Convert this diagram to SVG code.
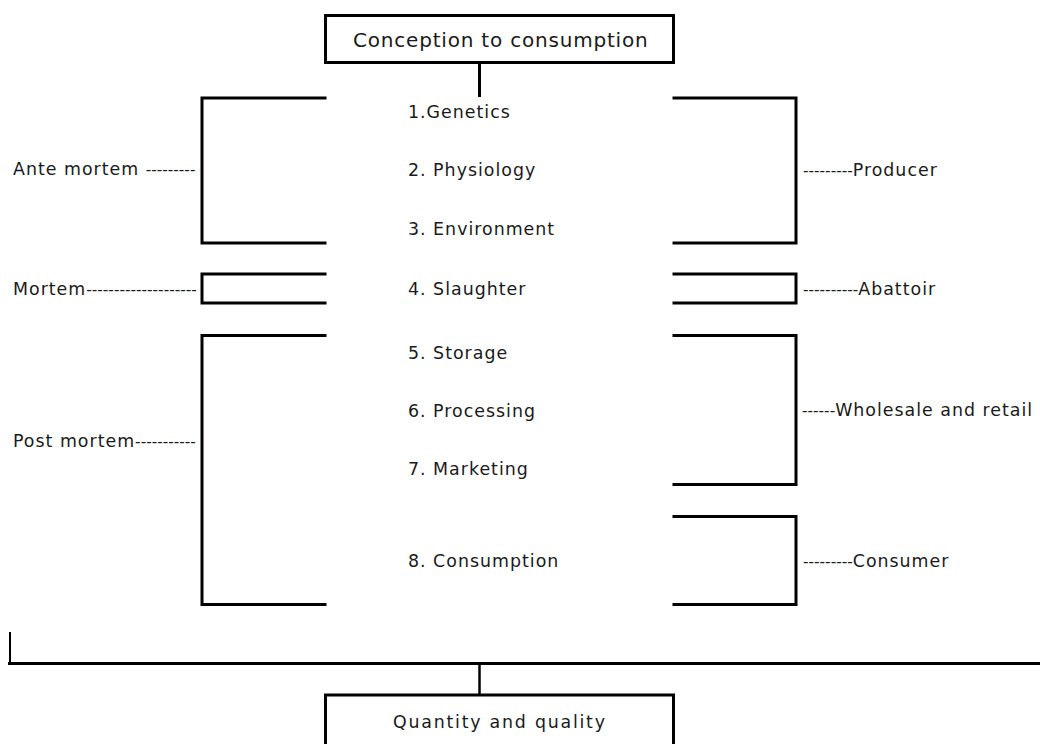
<svg xmlns="http://www.w3.org/2000/svg" width="1040" height="744" viewBox="0 0 1040 744">
<style>
.box{fill:#fff;stroke:#000;stroke-width:3}
.br{fill:none;stroke:#000;stroke-width:3;stroke-linecap:square}
.ln{fill:none;stroke:#000}
text{font-family:"DejaVu Sans",Verdana,sans-serif;font-size:17.4px;letter-spacing:1px;fill:#1a1a1a}
.title{font-size:20px;letter-spacing:0.8px}
.d{font-family:"Liberation Sans",Arial,sans-serif;font-size:16.6px;letter-spacing:0}
</style>
<rect width="1040" height="744" fill="#fff"/>
<g id="connectors">
<line class="ln" x1="479.5" y1="64" x2="479.5" y2="97" stroke-width="3"/>
<path class="ln" d="M10,632 V663.5" stroke-width="2"/>
<line class="ln" x1="8" y1="663.5" x2="1040" y2="663.5" stroke-width="3"/>
<line class="ln" x1="479.5" y1="664" x2="479.5" y2="695" stroke-width="2.5"/>
</g>
<g id="top">
<rect class="box" x="325.5" y="15.5" width="348" height="47"/>
<text class="title" x="353" y="47">Conception to consumption</text>
</g>
<g id="ante-mortem">
<path class="br" d="M325,98 H202 V243 H325"/>
<text x="13" y="175">Ante mortem <tspan class="d">---------</tspan></text>
</g>
<g id="producer">
<path class="br" d="M674,98 H796 V243 H674"/>
<text x="803" y="176"><tspan class="d">---------</tspan>Producer</text>
</g>
<g id="mortem">
<path class="br" d="M325,274 H202 V303 H325"/>
<text x="13" y="295">Mortem<tspan class="d">--------------------</tspan></text>
</g>
<g id="abattoir">
<path class="br" d="M674,274 H796 V303 H674"/>
<text x="803" y="295"><tspan class="d">----------</tspan>Abattoir</text>
</g>
<g id="post-mortem">
<path class="br" d="M325,335.5 H202 V604.5 H325"/>
<text x="13" y="447">Post mortem<tspan class="d">-----------</tspan></text>
</g>
<g id="wholesale">
<path class="br" d="M674,335.5 H796 V484.5 H674"/>
<text x="802" y="416"><tspan class="d">------</tspan>Wholesale and retail</text>
</g>
<g id="consumer">
<path class="br" d="M674,516.5 H796 V604.5 H674"/>
<text x="803" y="567"><tspan class="d">---------</tspan>Consumer</text>
</g>
<g id="steps">
<text x="408" y="117.5">1.Genetics</text>
<text x="408" y="175.5">2. Physiology</text>
<text x="408" y="234.5">3. Environment</text>
<text x="408" y="295">4. Slaughter</text>
<text x="408" y="358.5">5. Storage</text>
<text x="408" y="417">6. Processing</text>
<text x="408" y="475">7. Marketing</text>
<text x="408" y="566.5">8. Consumption</text>
</g>
<g id="bottom">
<rect class="box" x="325.5" y="695" width="348" height="60"/>
<text x="393" y="728" textLength="213" lengthAdjust="spacing">Quantity and quality</text>
</g>
</svg>
